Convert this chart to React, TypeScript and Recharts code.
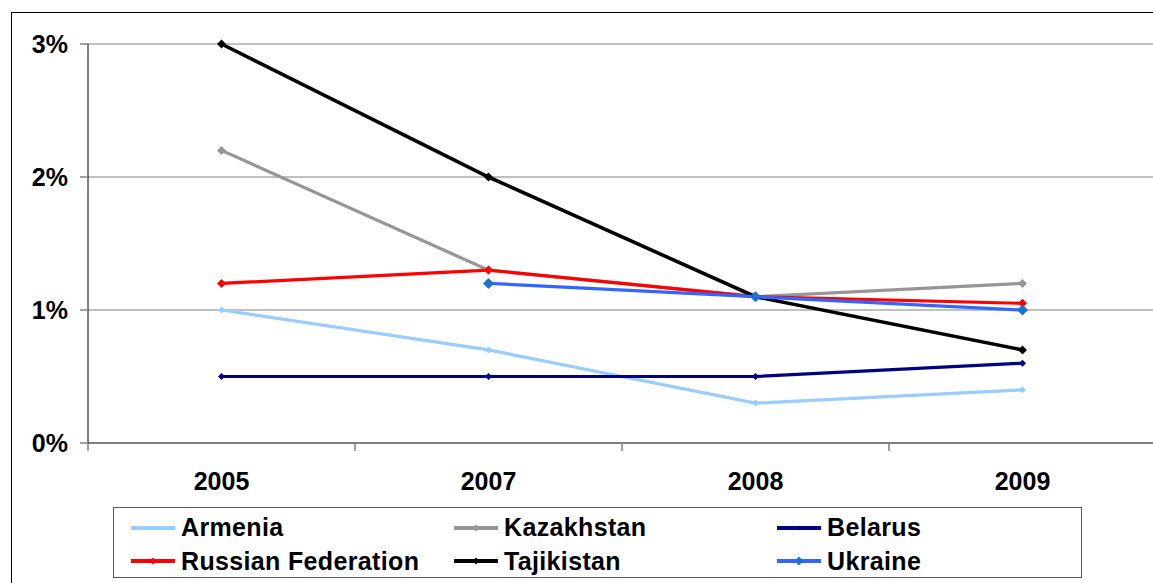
import React from 'react';
import { LineChart, Line, XAxis, YAxis, CartesianGrid } from 'recharts';

const years = ['2005', '2007', '2008', '2009'];
const armenia = [1.0, 0.7, 0.3, 0.4];
const kazakhstan = [2.2, 1.3, 1.1, 1.2];
const belarus = [0.5, 0.5, 0.5, 0.6];
const russia = [1.2, 1.3, 1.1, 1.05];
const tajikistan = [3.0, 2.0, 1.1, 0.7];
const ukraine: (number | null)[] = [null, 1.2, 1.1, 1.0];
const yTicks = [0, 1, 2, 3];

const data = years.map((y, i) => ({
  year: y,
  Armenia: armenia[i],
  Kazakhstan: kazakhstan[i],
  Belarus: belarus[i],
  'Russian Federation': russia[i],
  Tajikistan: tajikistan[i],
  Ukraine: ukraine[i],
}));

const series = [
  { key: 'Armenia', color: '#99CCFF', marker: '#99CCFF', width: 3.2, r: 3.5 },
  { key: 'Kazakhstan', color: '#969696', marker: '#969696', width: 3.2, r: 4.5 },
  { key: 'Belarus', color: '#000080', marker: '#000080', width: 3.2, r: 3.5 },
  { key: 'Russian Federation', color: '#FF0000', marker: '#FF0000', width: 3.2, r: 4.5 },
  { key: 'Tajikistan', color: '#000000', marker: '#000000', width: 3.6, r: 4.5 },
  { key: 'Ukraine', color: '#3366FF', marker: '#1F6FD6', width: 3.2, r: 5.5 },
];
const legendOrder = ['Armenia', 'Kazakhstan', 'Belarus', 'Russian Federation', 'Tajikistan', 'Ukraine'];

const FONT = '"Liberation Sans", Arial, sans-serif';
const FS = 25;
const CHART_W = 1156;
const CHART_H = 583;
const MARGIN = { top: 44, right: 0, bottom: 100, left: 0 };
const Y_W = 88;
const HALF_BAND = (CHART_W - Y_W - MARGIN.left - MARGIN.right) / years.length / 2;

const makeDot = (color: string, r: number) => (props: any) => {
  const { cx, cy, value, index } = props;
  if (value == null || cx == null || cy == null) return <g key={`d${index}`} />;
  return (
    <path
      key={`d${index}`}
      d={`M${cx},${cy - r}L${cx + r},${cy}L${cx},${cy + r}L${cx - r},${cy}Z`}
      fill={color}
      stroke="none"
    />
  );
};

const XTick = (props: any) => {
  const { x, y, payload } = props;
  return (
    <g>
      <line x1={x - HALF_BAND} x2={x - HALF_BAND} y1={y - 8} y2={y} stroke="#808080" strokeWidth={1.5} />
      <text x={x} y={y + 39} textAnchor="middle" fontFamily={FONT} fontWeight="bold" fontSize={FS} fill="#000">
        {payload.value}
      </text>
    </g>
  );
};

const LegendIcon = ({ color, marker, r }: { color: string; marker: string; r: number }) => (
  <svg width={44} height={14} style={{ display: 'block' }}>
    <line x1={0} x2={44} y1={7} y2={7} stroke={color} strokeWidth={4} />
    <path d={`M22,${7 - r}L${22 + r},7L22,${7 + r}L${22 - r},7Z`} fill={marker} />
  </svg>
);

export default function App() {
  const colX = [17, 340, 663];
  const rowY = [19.5, 53];
  return (
    <div style={{ position: 'fixed', left: 0, top: 0, width: 1153, height: 583, overflow: 'hidden', background: '#fff' }}>
      <div
        style={{
          position: 'absolute',
          left: 11,
          top: 12,
          width: 1200,
          height: 700,
          border: '1.5px solid #000',
          boxSizing: 'border-box',
        }}
      />
      <div style={{ position: 'absolute', left: 0, top: 0 }}>
        <LineChart width={CHART_W} height={CHART_H} data={data} margin={MARGIN}>
          <CartesianGrid horizontal vertical={false} stroke="#808080" strokeWidth={1} />
          <XAxis
            dataKey="year"
            axisLine={{ stroke: '#808080', strokeWidth: 2 }}
            tickLine={false}
            tickSize={8}
            tickMargin={0}
            height={40}
            padding={{ left: HALF_BAND, right: HALF_BAND }}
            tick={<XTick />}
            interval={0}
          />
          <YAxis
            type="number"
            domain={[0, 3]}
            ticks={yTicks}
            width={Y_W}
            tickFormatter={(v: number) => `${v}%`}
            axisLine={{ stroke: '#000', strokeWidth: 1 }}
            tickLine={{ stroke: '#808080', strokeWidth: 1.5 }}
            tickSize={8}
            tickMargin={12}
            tick={{ fontFamily: FONT, fontWeight: 'bold', fontSize: FS, fill: '#000' }}
          />
          {series.map((s) => (
            <Line
              key={s.key}
              type="linear"
              dataKey={s.key}
              stroke={s.color}
              strokeWidth={s.width}
              dot={makeDot(s.marker, s.r)}
              activeDot={false}
              isAnimationActive={false}
              connectNulls={false}
            />
          ))}
        </LineChart>
      </div>
      <div
        style={{
          position: 'absolute',
          left: 113,
          top: 507,
          width: 969,
          height: 71,
          border: '1.5px solid #5a5a5a',
          boxSizing: 'border-box',
          background: '#fff',
        }}
      >
        {legendOrder.map((k, i) => {
          const s = series.find((q) => q.key === k)!;
          const col = i % 3;
          const row = Math.floor(i / 3);
          return (
            <div
              key={k}
              style={{
                position: 'absolute',
                left: colX[col],
                top: rowY[row] - 16,
                height: 32,
                display: 'flex',
                alignItems: 'center',
                gap: 6,
                fontFamily: FONT,
                fontWeight: 'bold',
                fontSize: FS,
                letterSpacing: 0.35,
                color: '#000',
                whiteSpace: 'nowrap',
              }}
            >
              <LegendIcon color={s.color} marker={s.marker} r={s.r - 1} />
              <span>{k}</span>
            </div>
          );
        })}
      </div>
    </div>
  );
}
